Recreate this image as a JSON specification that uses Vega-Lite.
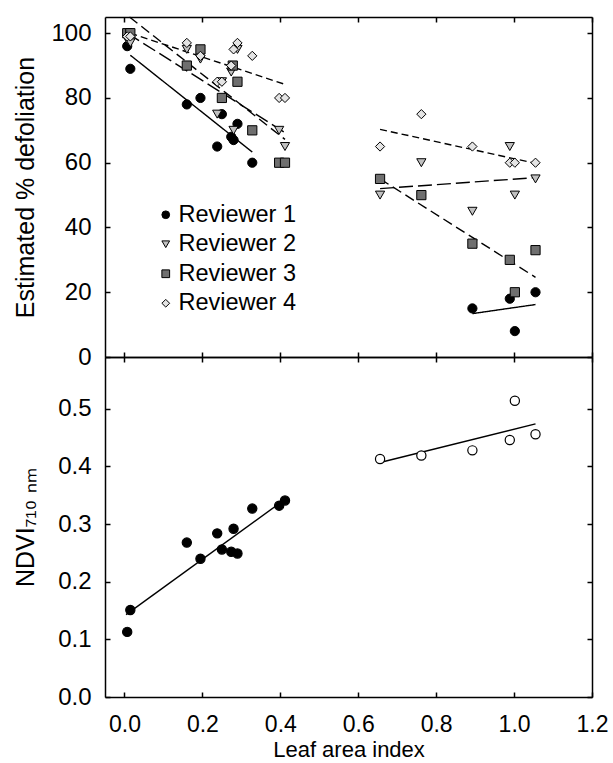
{
  "$schema": "https://vega.github.io/schema/vega-lite/v6.json",
  "padding": {"left": 13, "top": 14, "right": 5, "bottom": 0},
  "background": "white",
  "spacing": 0,
  "bounds": "flush",
  "config": {
    "view": {"stroke": null},
    "font": "Liberation Sans",
    "axis": {
      "grid": false, "domainColor": "black", "domainWidth": 1.5,
      "tickColor": "black", "tickWidth": 1.5, "tickSize": -5,
      "labelColor": "black", "titleColor": "black",
      "labelFont": "Liberation Sans", "titleFont": "Liberation Sans",
      "titleFontWeight": "normal", "labelFlush": false, "labelOverlap": false
    },
    "legend": {
      "labelFontSize": 23.5, "labelFont": "Liberation Sans", "labelColor": "black",
      "symbolSize": 60, "symbolStrokeWidth": 1,
      "rowPadding": 4.5, "labelOffset": 1
    }
  },
  "datasets": {
    "pts_top": [
      {"lai": 0.007, "val": 96, "reviewer": "Reviewer 1"},
      {"lai": 0.015, "val": 89, "reviewer": "Reviewer 1"},
      {"lai": 0.16, "val": 78, "reviewer": "Reviewer 1"},
      {"lai": 0.195, "val": 80, "reviewer": "Reviewer 1"},
      {"lai": 0.238, "val": 65, "reviewer": "Reviewer 1"},
      {"lai": 0.25, "val": 75, "reviewer": "Reviewer 1"},
      {"lai": 0.274, "val": 68, "reviewer": "Reviewer 1"},
      {"lai": 0.28, "val": 67, "reviewer": "Reviewer 1"},
      {"lai": 0.29, "val": 72, "reviewer": "Reviewer 1"},
      {"lai": 0.328, "val": 60, "reviewer": "Reviewer 1"},
      {"lai": 0.893, "val": 15, "reviewer": "Reviewer 1"},
      {"lai": 0.989, "val": 18, "reviewer": "Reviewer 1"},
      {"lai": 1.002, "val": 8, "reviewer": "Reviewer 1"},
      {"lai": 1.055, "val": 20, "reviewer": "Reviewer 1"},
      {"lai": 0.007, "val": 98, "reviewer": "Reviewer 2"},
      {"lai": 0.015, "val": 97, "reviewer": "Reviewer 2"},
      {"lai": 0.16, "val": 95, "reviewer": "Reviewer 2"},
      {"lai": 0.195, "val": 92, "reviewer": "Reviewer 2"},
      {"lai": 0.238, "val": 75, "reviewer": "Reviewer 2"},
      {"lai": 0.25, "val": 85, "reviewer": "Reviewer 2"},
      {"lai": 0.274, "val": 88, "reviewer": "Reviewer 2"},
      {"lai": 0.28, "val": 70, "reviewer": "Reviewer 2"},
      {"lai": 0.29, "val": 95, "reviewer": "Reviewer 2"},
      {"lai": 0.397, "val": 70, "reviewer": "Reviewer 2"},
      {"lai": 0.412, "val": 65, "reviewer": "Reviewer 2"},
      {"lai": 0.656, "val": 50, "reviewer": "Reviewer 2"},
      {"lai": 0.762, "val": 60, "reviewer": "Reviewer 2"},
      {"lai": 0.893, "val": 45, "reviewer": "Reviewer 2"},
      {"lai": 0.989, "val": 65, "reviewer": "Reviewer 2"},
      {"lai": 1.002, "val": 50, "reviewer": "Reviewer 2"},
      {"lai": 1.055, "val": 55, "reviewer": "Reviewer 2"},
      {"lai": 0.007, "val": 100, "reviewer": "Reviewer 3"},
      {"lai": 0.015, "val": 100, "reviewer": "Reviewer 3"},
      {"lai": 0.16, "val": 90, "reviewer": "Reviewer 3"},
      {"lai": 0.195, "val": 95, "reviewer": "Reviewer 3"},
      {"lai": 0.25, "val": 80, "reviewer": "Reviewer 3"},
      {"lai": 0.278, "val": 90, "reviewer": "Reviewer 3"},
      {"lai": 0.29, "val": 85, "reviewer": "Reviewer 3"},
      {"lai": 0.328, "val": 70, "reviewer": "Reviewer 3"},
      {"lai": 0.397, "val": 60, "reviewer": "Reviewer 3"},
      {"lai": 0.412, "val": 60, "reviewer": "Reviewer 3"},
      {"lai": 0.656, "val": 55, "reviewer": "Reviewer 3"},
      {"lai": 0.762, "val": 50, "reviewer": "Reviewer 3"},
      {"lai": 0.893, "val": 35, "reviewer": "Reviewer 3"},
      {"lai": 0.989, "val": 30, "reviewer": "Reviewer 3"},
      {"lai": 1.002, "val": 20, "reviewer": "Reviewer 3"},
      {"lai": 1.055, "val": 33, "reviewer": "Reviewer 3"},
      {"lai": 0.007, "val": 99, "reviewer": "Reviewer 4"},
      {"lai": 0.015, "val": 99, "reviewer": "Reviewer 4"},
      {"lai": 0.16, "val": 97, "reviewer": "Reviewer 4"},
      {"lai": 0.195, "val": 93, "reviewer": "Reviewer 4"},
      {"lai": 0.238, "val": 85, "reviewer": "Reviewer 4"},
      {"lai": 0.25, "val": 85, "reviewer": "Reviewer 4"},
      {"lai": 0.274, "val": 90, "reviewer": "Reviewer 4"},
      {"lai": 0.28, "val": 95, "reviewer": "Reviewer 4"},
      {"lai": 0.29, "val": 97, "reviewer": "Reviewer 4"},
      {"lai": 0.328, "val": 93, "reviewer": "Reviewer 4"},
      {"lai": 0.397, "val": 80, "reviewer": "Reviewer 4"},
      {"lai": 0.412, "val": 80, "reviewer": "Reviewer 4"},
      {"lai": 0.656, "val": 65, "reviewer": "Reviewer 4"},
      {"lai": 0.762, "val": 75, "reviewer": "Reviewer 4"},
      {"lai": 0.893, "val": 65, "reviewer": "Reviewer 4"},
      {"lai": 0.989, "val": 60, "reviewer": "Reviewer 4"},
      {"lai": 1.002, "val": 60, "reviewer": "Reviewer 4"},
      {"lai": 1.055, "val": 60, "reviewer": "Reviewer 4"}
    ],
    "lines_top": [
      {"fit": "R1", "seg": "L", "lai": 0.015, "val": 93.2},
      {"fit": "R1", "seg": "L", "lai": 0.328, "val": 63.3},
      {"fit": "R1", "seg": "R", "lai": 0.893, "val": 13.4},
      {"fit": "R1", "seg": "R", "lai": 1.055, "val": 16.2},
      {"fit": "R2", "seg": "L", "lai": 0.007, "val": 100},
      {"fit": "R2", "seg": "L", "lai": 0.412, "val": 69.3},
      {"fit": "R2", "seg": "R", "lai": 0.656, "val": 52},
      {"fit": "R2", "seg": "R", "lai": 1.055, "val": 55.4},
      {"fit": "R3", "seg": "L", "lai": 0.013, "val": 105},
      {"fit": "R3", "seg": "L", "lai": 0.412, "val": 67.2},
      {"fit": "R3", "seg": "R", "lai": 0.656, "val": 55},
      {"fit": "R3", "seg": "R", "lai": 1.055, "val": 24.6},
      {"fit": "R4", "seg": "L", "lai": 0.015, "val": 100},
      {"fit": "R4", "seg": "L", "lai": 0.412, "val": 84.2},
      {"fit": "R4", "seg": "R", "lai": 0.656, "val": 70.3},
      {"fit": "R4", "seg": "R", "lai": 1.055, "val": 59.8}
    ],
    "pts_bot": [
      {"lai": 0.007, "ndvi": 0.113, "grp": "a"},
      {"lai": 0.015, "ndvi": 0.151, "grp": "a"},
      {"lai": 0.16, "ndvi": 0.268, "grp": "a"},
      {"lai": 0.195, "ndvi": 0.240, "grp": "a"},
      {"lai": 0.238, "ndvi": 0.284, "grp": "a"},
      {"lai": 0.25, "ndvi": 0.256, "grp": "a"},
      {"lai": 0.274, "ndvi": 0.252, "grp": "a"},
      {"lai": 0.28, "ndvi": 0.292, "grp": "a"},
      {"lai": 0.29, "ndvi": 0.249, "grp": "a"},
      {"lai": 0.328, "ndvi": 0.327, "grp": "a"},
      {"lai": 0.397, "ndvi": 0.332, "grp": "a"},
      {"lai": 0.412, "ndvi": 0.341, "grp": "a"},
      {"lai": 0.656, "ndvi": 0.413, "grp": "b"},
      {"lai": 0.762, "ndvi": 0.419, "grp": "b"},
      {"lai": 0.893, "ndvi": 0.428, "grp": "b"},
      {"lai": 0.989, "ndvi": 0.446, "grp": "b"},
      {"lai": 1.002, "ndvi": 0.514, "grp": "b"},
      {"lai": 1.055, "ndvi": 0.456, "grp": "b"}
    ],
    "lines_bot": [
      {"seg": "L", "lai": 0.004, "ndvi": 0.143},
      {"seg": "L", "lai": 0.408, "ndvi": 0.341},
      {"seg": "R", "lai": 0.656, "ndvi": 0.407},
      {"seg": "R", "lai": 1.055, "ndvi": 0.474}
    ]
  },
  "vconcat": [
    {
      "width": 487,
      "height": 340,
      "layer": [
        {
          "data": {"name": "lines_top"},
          "mark": {"type": "line", "stroke": "black", "strokeWidth": 1.4},
          "encoding": {
            "x": {"field": "lai", "type": "quantitative", "scale": {"domain": [-0.05, 1.2], "nice": false, "zero": false},
                  "axis": {"orient": "top", "labels": false, "title": null, "values": [0, 0.2, 0.4, 0.6, 0.8, 1, 1.2]}},
            "y": {"field": "val", "type": "quantitative", "scale": {"domain": [0, 105], "nice": false, "zero": false},
                  "axis": {"orient": "right", "labels": false, "title": null, "values": [0, 20, 40, 60, 80, 100]}},
            "detail": {"field": "seg", "type": "nominal"},
            "strokeDash": {"field": "fit", "type": "nominal",
                           "scale": {"domain": ["R1", "R2", "R3", "R4"],
                                     "range": [[1, 0], [14, 5], [10, 5], [7, 4]]},
                           "legend": null}
          }
        },
        {
          "data": {"name": "pts_top"},
          "mark": {"type": "point", "filled": true, "size": 85, "strokeWidth": 1, "opacity": 1},
          "encoding": {
            "x": {"field": "lai", "type": "quantitative", "scale": {"domain": [-0.05, 1.2], "nice": false, "zero": false},
                  "axis": {"orient": "bottom", "labels": false, "title": null, "values": [0, 0.2, 0.4, 0.6, 0.8, 1, 1.2]}},
            "y": {"field": "val", "type": "quantitative", "scale": {"domain": [0, 105], "nice": false, "zero": false},
                  "axis": {"orient": "left", "title": "Estimated % defoliation", "titleFontSize": 25, "titleX": -67,
                           "labelFontSize": 24, "labelPadding": 19, "values": [0, 20, 40, 60, 80, 100]}},
            "shape": {"field": "reviewer", "type": "nominal",
                      "scale": {"domain": ["Reviewer 1", "Reviewer 2", "Reviewer 3", "Reviewer 4"],
                                "range": ["circle", "triangle-down", "square", "diamond"]},
                      "legend": {"title": null, "orient": "none", "legendX": 49, "legendY": 186}},
            "fill": {"field": "reviewer", "type": "nominal",
                     "scale": {"domain": ["Reviewer 1", "Reviewer 2", "Reviewer 3", "Reviewer 4"],
                               "range": ["#000000", "#c0c0c0", "#6f6f6f", "#e4e4e4"]},
                     "legend": {"title": null, "orient": "none", "legendX": 49, "legendY": 186}},
            "stroke": {"field": "reviewer", "type": "nominal",
                       "scale": {"domain": ["Reviewer 1", "Reviewer 2", "Reviewer 3", "Reviewer 4"],
                                 "range": ["#000000", "#000000", "#000000", "#000000"]},
                       "legend": {"title": null, "orient": "none", "legendX": 49, "legendY": 186}}
          }
        }
      ],
      "resolve": {"axis": {"x": "independent", "y": "independent"}}
    },
    {
      "width": 487,
      "height": 340,
      "layer": [
        {
          "data": {"name": "lines_bot"},
          "mark": {"type": "line", "stroke": "black", "strokeWidth": 1.4},
          "encoding": {
            "x": {"field": "lai", "type": "quantitative", "scale": {"domain": [-0.05, 1.2], "nice": false, "zero": false},
                  "axis": {"orient": "top", "labels": false, "title": null, "values": [0, 0.2, 0.4, 0.6, 0.8, 1, 1.2]}},
            "y": {"field": "ndvi", "type": "quantitative", "scale": {"domain": [0, 0.59], "nice": false, "zero": false},
                  "axis": {"orient": "right", "labels": false, "title": null, "values": [0, 0.1, 0.2, 0.3, 0.4, 0.5]}},
            "detail": {"field": "seg", "type": "nominal"}
          }
        },
        {
          "data": {"name": "pts_bot"},
          "mark": {"type": "point", "filled": true, "size": 85, "stroke": "black", "strokeWidth": 1.2, "opacity": 1},
          "encoding": {
            "x": {"field": "lai", "type": "quantitative", "scale": {"domain": [-0.05, 1.2], "nice": false, "zero": false},
                  "axis": {"orient": "bottom", "title": "Leaf area index", "titleFontSize": 22, "titlePadding": 3,
                           "labelFontSize": 23, "labelPadding": 21, "format": ".1f",
                           "values": [0, 0.2, 0.4, 0.6, 0.8, 1, 1.2]}},
            "y": {"field": "ndvi", "type": "quantitative", "scale": {"domain": [0, 0.59], "nice": false, "zero": false},
                  "axis": {"orient": "left", "title": "NDVI₇₁₀ ₙₘ", "titleFontSize": 25, "titleX": -67,
                           "labelFontSize": 24, "labelPadding": 19, "format": ".1f",
                           "values": [0, 0.1, 0.2, 0.3, 0.4, 0.5]}},
            "color": {"field": "grp", "type": "nominal",
                      "scale": {"domain": ["a", "b"], "range": ["#000000", "#ffffff"]}, "legend": null}
          }
        }
      ],
      "resolve": {"axis": {"x": "independent", "y": "independent"}}
    }
  ],
  "resolve": {
    "scale": {"x": "independent", "y": "independent"}
  }
}
